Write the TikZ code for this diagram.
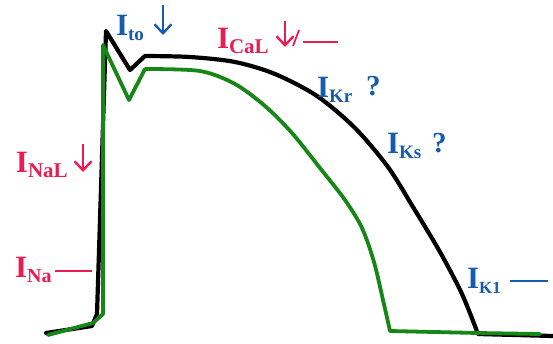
\documentclass[tikz,border=0pt]{standalone}
\usepackage{fontspec}
\setmainfont{Liberation Serif}
\usetikzlibrary{arrows.meta}
\definecolor{lblue}{RGB}{22,92,172}
\definecolor{lpink}{RGB}{232,30,82}
\definecolor{lgreen}{RGB}{22,135,22}
\newcommand{\curlab}[2][20]{{\fontsize{31}{31}\selectfont\bfseries I}\raisebox{-5.5pt}{\fontsize{#1}{#1}\selectfont\bfseries #2}}
\begin{document}
\begin{tikzpicture}[x=1pt,y=-1pt,
  lab/.style={anchor=base west,inner sep=0pt,outer sep=0pt},
  blab/.style={lab,text=lblue},
  plab/.style={lab,text=lpink},
  qmark/.style={lab,text=lblue,font=\fontsize{29}{29}\selectfont\bfseries},
  apline/.style={line join=round,line cap=round},
  darr/.style={line width=2.4pt,-{Straight Barb[length=9pt,width=17pt,line width=2.4pt]}},
  dsh/.style={line width=2pt}]
\useasboundingbox (0,0) rectangle (553,343);
% black action potential
\draw[apline,black,line width=4.2pt] (46,333) -- (92,326) -- (97,314) -- (106,31) -- (130,70) -- (145,56)
  plot[smooth,tension=0.5] coordinates {(145,56) (190,57) (235,62) (275,74) (317,96) (355,128) (388,167) (413,207) (440,252) (462,294) (478,334)}
  -- (553,336);
% green action potential
\draw[apline,lgreen,line width=3.8pt] (48,335) -- (93,323) -- (103,314) -- (103,45) -- (129,100) -- (145,69)
  plot[smooth,tension=0.5] coordinates {(145,69) (200,71) (235,84) (265,106) (292,133) (320,168) (345,200) (362,228) (374,262) (383,300) (390,331)}
  -- (478,333) -- (540,334);
% labels
\node[blab] (ito) at (116,35) {\curlab[19]{to}};
\draw[darr,lblue] (163,5) -- (163,35);
\node[plab] (ical) at (217,48) {\curlab[21]{CaL}};
\draw[darr,lpink] (285,21) -- (285,47);
\draw[lpink,line width=1.8pt] (299,30) -- (293,46);
\draw[lpink,dsh] (303,42) -- (338,42);
\node[blab] (ikr) at (317,97) {\curlab[19]{Kr}};
\node[qmark] (qkr) at (366,95) {?};
\node[blab] (iks) at (387,153) {\curlab[19]{Ks}};
\node[qmark] (qks) at (432,152) {?};
\node[plab] (inal) at (16,172) {\curlab[21]{NaL}};
\draw[darr,lpink] (83,144) -- (83,172);
\node[plab] (ina) at (15,277) {\curlab[20]{Na}};
\draw[lpink,dsh] (55,271) -- (92,271);
\node[blab] (ik1) at (467,288) {\curlab[17]{K1}};
\draw[lblue,dsh] (510,281) -- (548,281);
\end{tikzpicture}
\end{document}
